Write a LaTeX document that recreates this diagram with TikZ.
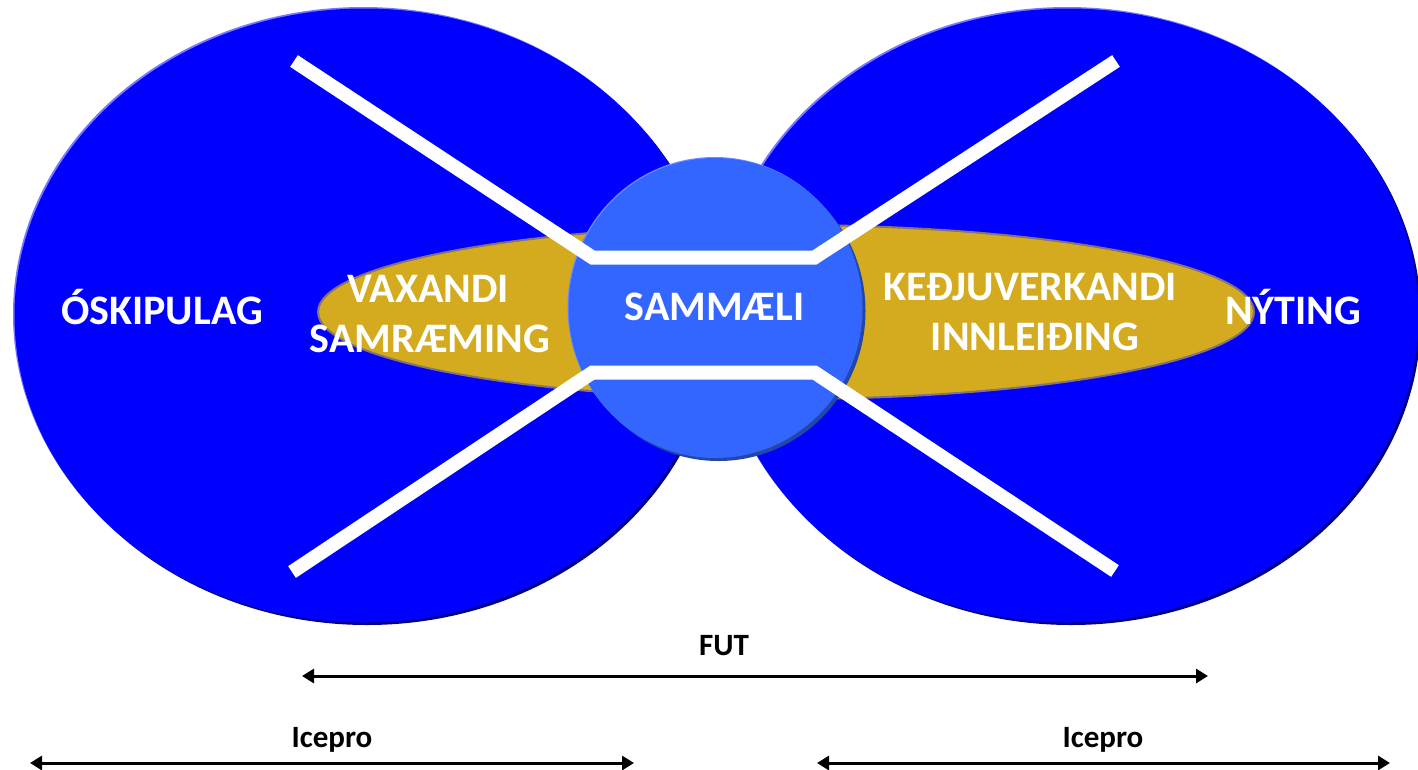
\documentclass[tikz,border=0pt]{standalone}
\usepackage{fontspec}
\setmainfont{Carlito}
\usetikzlibrary{arrows.meta,shapes.geometric}
\definecolor{bigblue}{RGB}{0,0,255}
\definecolor{shadowblue}{RGB}{0,0,140}
\definecolor{rimblue}{RGB}{120,120,255}
\definecolor{gold}{RGB}{212,170,30}
\definecolor{goldedge}{RGB}{135,115,115}
\definecolor{midblue}{RGB}{51,102,255}
\definecolor{midshadow}{RGB}{35,70,170}
\definecolor{midrim}{RGB}{110,140,255}
\tikzset{
  bigtext/.style={text=white, font=\fontsize{42}{50}\selectfont\bfseries, align=center, inner sep=0pt},
  smalltext/.style={text=black, font=\fontsize{31}{36}\selectfont\bfseries, inner sep=0pt, anchor=base},
  whiteband/.style={draw=white, line width=14pt, line join=miter},
  spanarrow/.style={draw=black, line width=3pt, {Triangle[length=12pt,width=14pt]}-{Triangle[length=12pt,width=14pt]}}
}
\begin{document}
\begin{tikzpicture}[x=1pt,y=-1pt]
\useasboundingbox (0,0) rectangle (1418,769);
% big blue ellipses
\fill[shadowblue] (367,318) ellipse [x radius=350pt, y radius=307pt];
\fill[shadowblue] (1071,318) ellipse [x radius=350pt, y radius=307pt];
\fill[rimblue] (363,314) ellipse [x radius=350pt, y radius=307pt];
\fill[rimblue] (1067,314) ellipse [x radius=350pt, y radius=307pt];
\node[ellipse, fill=bigblue, minimum width=700pt, minimum height=614pt, inner sep=0pt] (leftoval) at (364.5,315.5) {};
\node[ellipse, fill=bigblue, minimum width=700pt, minimum height=614pt, inner sep=0pt] (rightoval) at (1068.5,315.5) {};
% gold ellipse
\node[ellipse, fill=gold, draw=goldedge, line width=2pt, minimum width=936pt, minimum height=174pt, inner sep=0pt] (goldoval) at (786,312) {};
% centre circle
\fill[midshadow] (718.5,311) ellipse [x radius=147pt, y radius=150pt];
\fill[midrim] (714.5,307) ellipse [x radius=147pt, y radius=150pt];
\node[ellipse, fill=midblue, minimum width=294pt, minimum height=300pt, inner sep=0pt] (centre) at (715.5,308) {};
% white bands
\coordinate (ul) at (294,61);
\coordinate (uc1) at (592.5,257.5);
\coordinate (uc2) at (814.5,257.5);
\coordinate (ur) at (1116,61);
\coordinate (ll) at (292,572);
\coordinate (lc1) at (592.5,372.5);
\coordinate (lc2) at (814.5,372.5);
\coordinate (lr) at (1115,571);
\draw[whiteband] (ul) -- (uc1) -- (uc2) -- (ur);
\draw[whiteband] (ll) -- (lc1) -- (lc2) -- (lr);
% labels
\node[bigtext, anchor=base] (oskipulag) at (162,324) {ÓSKIPULAG};
\node[bigtext, anchor=base] (nyting) at (1293,324) {NÝTING};
\node[bigtext, anchor=base] (sammaeli) at (714.5,320) {SAMMÆLI};
\node[bigtext, anchor=base] (vaxandi) at (428,302) {VAXANDI};
\node[bigtext, anchor=base] (samraeming) at (430,352) {SAMRÆMING};
\node[bigtext, anchor=base] (kedju) at (1030,300) {KEÐJUVERKANDI};
\node[bigtext, anchor=base] (innleiding) at (1035,350) {INNLEIÐING};
% span arrows
\coordinate (futl) at (302,676);
\coordinate (futr) at (1208,676);
\coordinate (ice1l) at (30,763);
\coordinate (ice1r) at (634,763);
\coordinate (ice2l) at (817,763);
\coordinate (ice2r) at (1390,763);
\draw[spanarrow] (futl) -- (futr);
\draw[spanarrow] (ice1l) -- (ice1r);
\draw[spanarrow] (ice2l) -- (ice2r);
\node[smalltext] (fut) at (724,655) {FUT};
\node[smalltext] (ice1) at (332,747) {Icepro};
\node[smalltext] (ice2) at (1103,747) {Icepro};
\end{tikzpicture}
\end{document}
